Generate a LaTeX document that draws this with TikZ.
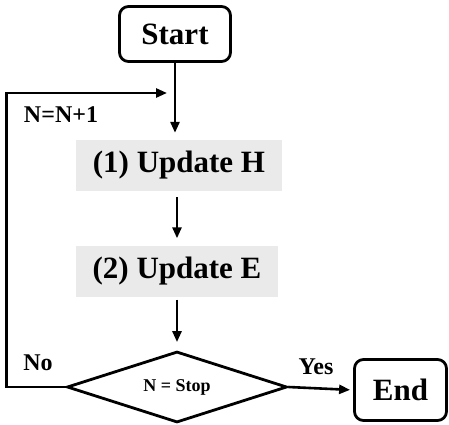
\documentclass[tikz,border=0pt]{standalone}
\usepackage{fontspec}
\setmainfont{Liberation Serif}
\usepackage{tikz}
\usetikzlibrary{arrows.meta,positioning,shapes.geometric}
\definecolor{Shade}{HTML}{EAEAEA}

\begin{document}
\begin{tikzpicture}[x=1pt,y=1pt, every node/.style={font=\bfseries}, term/.style={draw,line width=2.8pt,rounded corners=9pt,inner sep=0pt,font=\fontsize{31}{36}\selectfont\bfseries}, proc/.style={fill=Shade,inner sep=0pt,minimum height=51pt,font=\fontsize{31}{36}\selectfont\bfseries}, cond/.style={diamond,draw,line width=2.8pt,aspect=3,inner sep=0pt,minimum width=220pt,minimum height=71pt,font=\fontsize{18}{22}\selectfont\bfseries}, tag/.style={inner sep=0pt,font=\fontsize{24}{28}\selectfont\bfseries}, arr/.style={-{Triangle[length=11pt,width=9pt]},line width=2.6pt}]
\useasboundingbox (0,0) rectangle (449,424);
\node[term,minimum width=111pt,minimum height=55pt] (start) at (175,390) {Start};
\node[proc,minimum width=206pt] (updh) at (179,258.5) {(1) Update H};
\node[proc,minimum width=202pt] (upde) at (177,153) {(2) Update E};
\node[cond] (stop) at (177,37) {N = Stop};
\node[term,minimum width=92pt,minimum height=61pt] (end) at (400.5,34) {End};
\node[tag] (incr) at (61,309) {N=N+1};
\node[tag] (no) at (38,61) {No};
\node[tag] (yes) at (316,57) {Yes};
\coordinate (join) at (167,331);
\draw[arr,shorten >=7pt] (start.south) -- (start.south |- updh.north);
\draw[arr,shorten <=6pt,shorten >=7pt] (updh.south -| upde.north) -- (upde.north);
\draw[arr,shorten <=3pt,shorten >=8pt] (upde.south) -- (stop.north);
\draw[arr,shorten >=3pt] (stop.east) -- (end.west);
\draw[arr] (stop.west) -- ++(-59,0) |- (join);
\end{tikzpicture}
\end{document}
